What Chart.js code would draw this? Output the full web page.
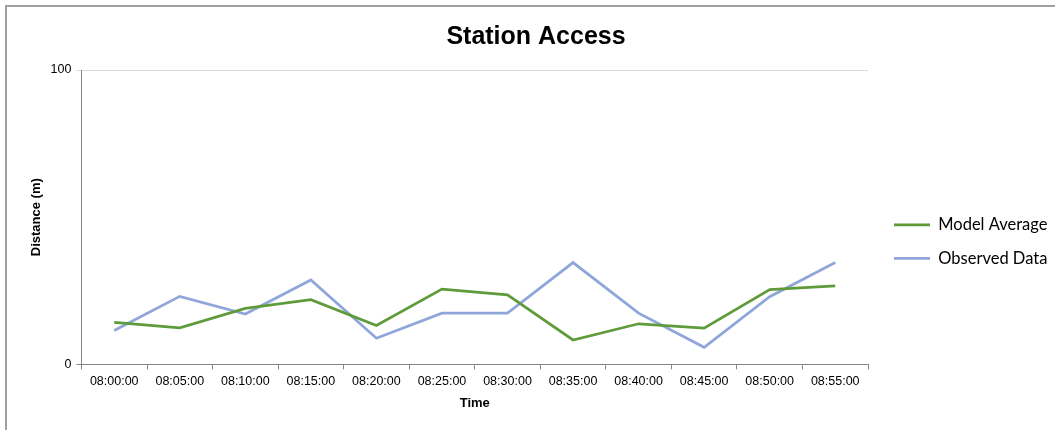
<!DOCTYPE html>
<html>
<head>
<meta charset="utf-8">
<script src="https://cdn.jsdelivr.net/npm/chart.js@4"></script>
<style>
  html, body { margin: 0; padding: 0; background: #fff; }
  #box { width: 1055px; height: 430px; }
</style>
</head>
<body>
<div id="box"><canvas id="stationchart"></canvas></div>
<script>
const times = ['08:00:00', '08:05:00', '08:10:00', '08:15:00', '08:20:00', '08:25:00',
               '08:30:00', '08:35:00', '08:40:00', '08:45:00', '08:50:00', '08:55:00'];
const modelAverage = [14.3, 12.4, 19, 22, 13.2, 25.6, 23.6, 8.3, 13.8, 12.3, 25.4, 26.7];
const observedData = [11.5, 23.1, 17.1, 28.7, 8.9, 17.4, 17.4, 34.6, 17.4, 5.8, 23, 34.6];
const yTicks = [0, 100];

const ctx = document.getElementById('stationchart');

// grey frame round the chart (only top and left edges are inside the picture)
const framePlugin = {
    id: 'frame',
    beforeDraw(chart) {
        const c = chart.ctx;
        c.save();
        c.fillStyle = '#fff';
        c.fillRect(0, 0, chart.width, chart.height);
        c.strokeStyle = '#a0a0a0';
        c.lineWidth = 2;
        c.beginPath();
        c.moveTo(6, chart.height + 5);
        c.lineTo(6, 6);
        c.lineTo(chart.width + 5, 6);
        c.stroke();
        c.restore();
    }
};

// legend width fixed so the plot ends where it does, then nudged down/right
const legendPlace = {
    id: 'legendPlace',
    beforeInit(chart) {
        const fit = chart.legend.fit;
        chart.legend.fit = function() {
            fit.call(this);
            this.width = 175;
        };
    },
    afterLayout(chart) {
        const lg = chart.legend;
        lg.left += 9;
        lg.right += 9;
        lg.top += 32;
        lg.bottom += 32;
    }
};

(function() {
    new Chart(
        ctx,
        {
        type: 'line',
        plugins: [framePlugin, legendPlace],
        data: {
            labels: times,
            datasets: [
            {
                label: 'Model Average',
                data: modelAverage,
                borderColor: '#5f9b3a',
                backgroundColor: '#5f9b3a',
                borderWidth: 2.75,
                pointRadius: 0,
                tension: 0
            },
            {
                label: 'Observed Data',
                data: observedData,
                borderColor: '#8fa6da',
                backgroundColor: '#8fa6da',
                borderWidth: 2.75,
                pointRadius: 0,
                tension: 0
            }
            ]
        },
        options: {
            responsive: true,
            maintainAspectRatio: false,
            animation: false,
            layout: {
                padding: { left: 29, right: 12, top: 8, bottom: 19 }
            },
            plugins: {
            title: {
                display: true,
                text: 'Station Access',
                color: '#000',
                font: { family: 'Liberation Sans, Arial', size: 25, weight: 'bold' },
                padding: { top: 14, bottom: 18 }
            },
            legend: {
                position: 'right',
                labels: {
                    usePointStyle: true,
                    pointStyle: 'line',
                    pointStyleWidth: 36,
                    color: '#000',
                    font: { family: 'Lato', size: 16.5 },
                    padding: 17
                }
            },
            tooltip: {
                enabled: false
            }
            },
            scales: {
            x: {
                offset: true,
                border: { color: '#868686', width: 1 },
                grid: {
                    offset: true,
                    drawOnChartArea: false,
                    color: '#868686',
                    tickLength: 5
                },
                ticks: {
                    color: '#000',
                    maxRotation: 0,
                    autoSkip: false,
                    font: { family: 'Liberation Sans, Arial', size: 12.5 },
                    padding: 5
                },
                title: {
                    display: true,
                    text: 'Time',
                    color: '#000',
                    font: { family: 'Liberation Sans, Arial', size: 13, weight: 'bold' },
                    padding: { top: 1, bottom: 0 }
                }
            },
            y: {
                min: 0,
                max: 100,
                afterBuildTicks(axis) {
                    axis.ticks = yTicks.map(v => ({ value: v }));
                },
                border: { color: '#868686', width: 1 },
                grid: {
                    color: (c) => c.tick && c.tick.value === 0 ? '#868686' : '#d9d9d9',
                    tickLength: 5
                },
                ticks: {
                    color: '#000',
                    font: { family: 'Liberation Sans, Arial', size: 12.5 },
                    padding: 5
                },
                title: {
                    display: true,
                    text: 'Distance (m)',
                    color: '#000',
                    font: { family: 'Liberation Sans, Arial', size: 13, weight: 'bold' },
                    padding: { top: 0, bottom: 1 }
                }
            }
            }
        }
        }
    );
})();
</script>
</body>
</html>
